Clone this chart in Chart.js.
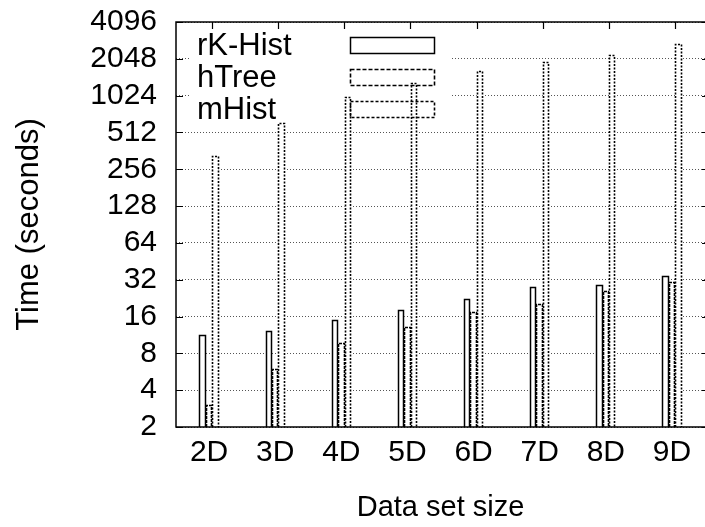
<!DOCTYPE html>
<html>
<head>
<meta charset="utf-8">
<script src="https://cdn.jsdelivr.net/npm/chart.js@4/dist/chart.umd.min.js"></script>
<style>
html, body { margin: 0; padding: 0; background: #fff; }
#wrap { width: 705px; height: 527px; }
</style>
</head>
<body>
<div id="wrap"><canvas id="chart" width="705" height="527"></canvas></div>
<script>
// data
const categories = ["2D", "3D", "4D", "5D", "6D", "7D", "8D", "9D"];
const rkHist = [11.2, 12.1, 15.0, 18.0, 22.2, 27.8, 29.1, 34.5];
const hTree = [3.0, 6.0, 9.8, 13.1, 17.3, 20.2, 26.0, 30.4];
const mHist = [330, 617, 1006, 1310, 1622, 1922, 2221, 2732];
const yTicks = [2, 4, 8, 16, 32, 64, 128, 256, 512, 1024, 2048, 4096];

const FONT = "'Liberation Sans', Arial, Helvetica, sans-serif";

// bars outlines, legend, frame and tick marks (gnuplot look)
const gnuplotLook = {
    id: "gnuplotLook",
    beforeDatasetsDraw(chart) {
        const ctx = chart.ctx, a = chart.chartArea;
        // opaque legend background hides the grid behind it
        ctx.save();
        ctx.fillStyle = "#fff";
        ctx.fillRect(a.left + 14, a.top + 2, 262, 101);
        ctx.restore();
    },
    afterDatasetsDraw(chart) {
        const ctx = chart.ctx, a = chart.chartArea;
        const xs = chart.scales.x, ys = chart.scales.y;
        ctx.save();
        ctx.strokeStyle = "#000";

        // bar outlines
        chart.data.datasets.forEach((ds, i) => {
            const meta = chart.getDatasetMeta(i);
            ctx.lineWidth = ds.outlineWidth;
            ctx.setLineDash(ds.dash);
            meta.data.forEach(bar => {
                const l = Math.round(bar.x - bar.width / 2) + 0.5;
                const r = Math.round(bar.x + bar.width / 2) - 0.5;
                const t = Math.round(bar.y) + 0.5;
                const b = bar.base;
                ctx.beginPath();
                ctx.moveTo(l, b);
                ctx.lineTo(l, t);
                ctx.lineTo(r, t);
                ctx.lineTo(r, b);
                ctx.stroke();
            });
        });

        // legend: text left, sample box right
        ctx.font = "31px " + FONT;
        ctx.textBaseline = "middle";
        ctx.textAlign = "left";
        ctx.fillStyle = "#000";
        chart.data.datasets.forEach((ds, i) => {
            const rowY = a.top + 23 + i * 32;
            ctx.setLineDash([]);
            ctx.fillText(ds.label, a.left + 21, rowY + 1);
            ctx.lineWidth = ds.outlineWidth;
            ctx.setLineDash(ds.legendDash);
            ctx.strokeRect(a.left + 174.5, rowY - 7.5, 84, 16);
        });

        // frame
        ctx.setLineDash([]);
        ctx.lineWidth = 1.5;
        ctx.beginPath();
        ctx.moveTo(a.right, a.top);
        ctx.lineTo(a.left, a.top);
        ctx.lineTo(a.left, a.bottom);
        ctx.lineTo(a.right, a.bottom);
        ctx.stroke();

        // tick marks
        ctx.lineWidth = 1.2;
        yTicks.forEach(v => {
            const y = Math.round(ys.getPixelForValue(v)) + 0.5;
            ctx.beginPath();
            ctx.moveTo(a.left, y); ctx.lineTo(a.left + 7, y);
            ctx.moveTo(a.right - 3, y); ctx.lineTo(a.right, y);
            ctx.stroke();
        });
        categories.forEach((c, i) => {
            const x = Math.round(xs.getPixelForTick(i)) + 3.5;
            ctx.beginPath();
            ctx.moveTo(x, a.top); ctx.lineTo(x, a.top + 7);
            ctx.stroke();
        });
        ctx.restore();
    }
};

new Chart(document.getElementById("chart"), {
    type: "bar",
    data: {
        labels: categories,
        datasets: [
            { label: "rK-Hist", data: rkHist, backgroundColor: "#fff", borderWidth: 0,
              dash: [], legendDash: [], outlineWidth: 1.5 },
            { label: "hTree", data: hTree, backgroundColor: "#fff", borderWidth: 0,
              dash: [3, 1], legendDash: [4, 2], outlineWidth: 1.6 },
            { label: "mHist", data: mHist, backgroundColor: "#fff", borderWidth: 0,
              dash: [2, 1.5], legendDash: [3, 2], outlineWidth: 1.6 }
        ]
    },
    options: {
        responsive: false,
        animation: false,
        devicePixelRatio: 1,
        layout: { padding: { top: 22, right: 0, left: 0, bottom: 0 } },
        datasets: { bar: { categoryPercentage: 0.29, barPercentage: 1 } },
        plugins: {
            legend: { display: false },
            tooltip: { enabled: false }
        },
        scales: {
            x: {
                afterFit: s => { s.height = 100; s.paddingLeft = 0; s.paddingRight = 0; },
                grid: { display: false, drawTicks: false },
                border: { display: false },
                ticks: { color: "#000", padding: 8, font: { family: FONT, size: 30 } },
                title: { display: true, text: "Data set size", color: "#000",
                         font: { family: FONT, size: 29 }, padding: { bottom: 2 } }
            },
            y: {
                type: "logarithmic",
                min: 2,
                max: 4096,
                afterFit: s => { s.width = 176; s.paddingTop = 0; s.paddingBottom = 0; },
                afterBuildTicks: s => { s.ticks = yTicks.map(v => ({ value: v })); },
                grid: { color: "#555", lineWidth: 1, drawTicks: false },
                border: { display: false, dash: [1, 2] },
                ticks: { color: "#000", padding: 19, autoSkip: false,
                         font: { family: FONT, size: 30 },
                         callback: v => String(v) },
                title: { display: true, text: "Time (seconds)", color: "#000",
                         font: { family: FONT, size: 31 }, padding: { top: 11 } }
            }
        }
    },
    plugins: [gnuplotLook]
});
</script>
</body>
</html>
